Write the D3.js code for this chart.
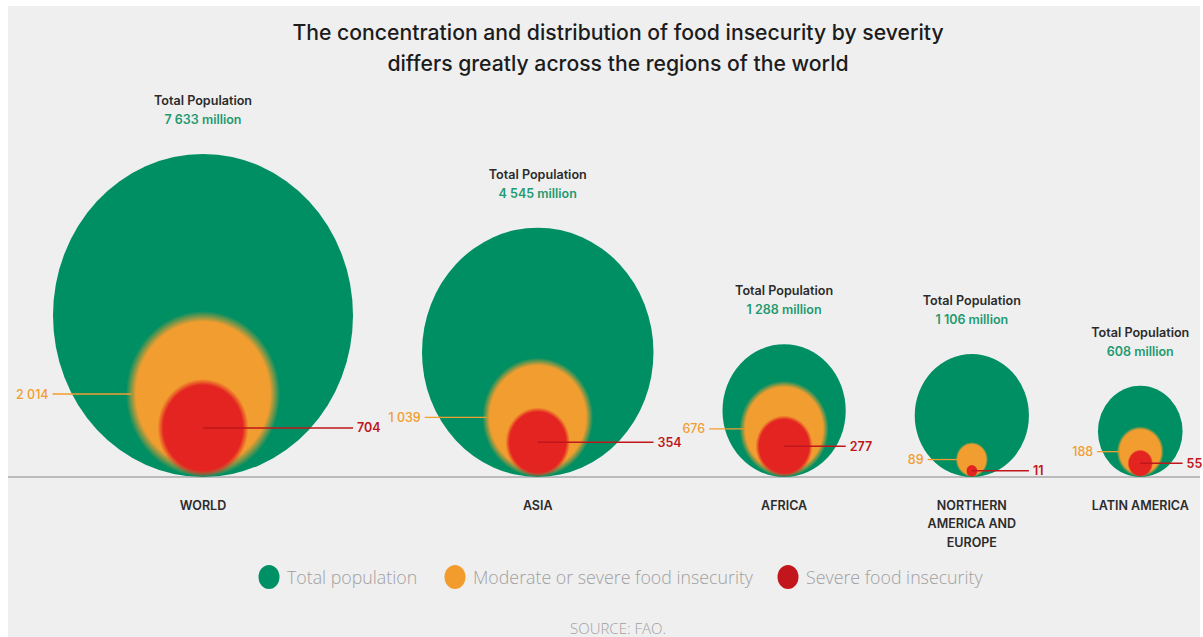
<!DOCTYPE html>
<html><head><meta charset="utf-8">
<script src="https://cdn.jsdelivr.net/npm/d3@7"></script>
<style>
html,body{margin:0;padding:0;background:#fff;}
svg{display:block;}
</style></head>
<body>
<svg id="chart" width="1203" height="637"></svg>
<script>
// ---- data ----
const regions = ["WORLD", "ASIA", "AFRICA", "NORTHERN AMERICA AND EUROPE", "LATIN AMERICA"];
const regionLines = [["WORLD"], ["ASIA"], ["AFRICA"], ["NORTHERN", "AMERICA AND", "EUROPE"], ["LATIN AMERICA"]];
const totalPop = [7633, 4545, 1288, 1106, 608];
const totalPopLabels = ["7 633 million", "4 545 million", "1 288 million", "1 106 million", "608 million"];
const moderateSevere = [2014, 1039, 676, 89, 188];
const moderateLabels = ["2 014", "1 039", "676", "89", "188"];
const severe = [704, 354, 277, 11, 55];
const severeLabels = ["704", "354", "277", "11", "55"];
const legendItems = ["Total population", "Moderate or severe food insecurity", "Severe food insecurity"];

// ---- layout ----
const W = 1203, H = 637;
const baseY = 477, startX = 53, gap = 69, yStretch = 1.077, edgeK = 0.94;
const orangeLeader = [78, 61, 33, 29, 21];
const colGreen = "#008f63", colOrange = "#f29d2f", colRed = "#e32421", colRedDark = "#c0161b";

const svg = d3.select("#chart");
const defs = svg.append("defs");
function softGrad(id, color) {
  const gr = defs.append("radialGradient").attr("id", id).attr("cx", 0.5).attr("cy", 0.5).attr("r", 0.5);
  gr.append("stop").attr("offset", 0).attr("stop-color", color).attr("stop-opacity", 1);
  gr.append("stop").attr("offset", 0.87).attr("stop-color", color).attr("stop-opacity", 1);
  gr.append("stop").attr("offset", 1).attr("stop-color", color).attr("stop-opacity", 0);
}
softGrad("gOrange", colOrange);
softGrad("gRed", colRed);

svg.append("rect").attr("x", 8).attr("y", 6).attr("width", 1192).attr("height", H - 6).attr("fill", "#efefef");

const r = d3.scaleSqrt().domain([0, d3.max(totalPop)]).range([0, 150]);

// centers packed left to right
const cx = [];
let cur = startX;
totalPop.forEach((v, i) => { cx.push(cur + r(v)); cur += 2 * r(v) + gap; });

const data = regions.map((name, i) => ({
  name, lines: regionLines[i], total: totalPop[i], mod: moderateSevere[i], sev: severe[i],
  totalLabel: totalPopLabels[i], modLabel: moderateLabels[i], sevLabel: severeLabels[i], cx: cx[i], i
}));

// title
const title = svg.append("text").attr("x", 618).attr("text-anchor", "middle")
  .attr("font-family", "Inter, 'Open Sans', sans-serif").attr("font-weight", 500).attr("font-size", 21.2).attr("fill", "#1c1c1c");
title.append("tspan").attr("x", 618).attr("y", 40).text("The concentration and distribution of food insecurity by severity");
title.append("tspan").attr("x", 618).attr("y", 71).text("differs greatly across the regions of the world");

// baseline
svg.append("line").attr("x1", 8).attr("x2", 1200).attr("y1", baseY).attr("y2", baseY).attr("stroke", "#a9a9a9").attr("stroke-width", 1.5);

const g = svg.selectAll("g.region").data(data).join("g").attr("class", "region");

g.append("ellipse").attr("cx", d => d.cx).attr("rx", d => r(d.total)).attr("ry", d => r(d.total) * yStretch)
  .attr("cy", d => baseY - r(d.total) * yStretch).attr("fill", colGreen);
g.append("ellipse").attr("cx", d => d.cx).attr("rx", d => r(d.mod)).attr("ry", d => r(d.mod) * yStretch)
  .attr("cy", d => baseY - r(d.mod) * yStretch).attr("fill", "url(#gOrange)");
g.append("ellipse").attr("cx", d => d.cx).attr("rx", d => r(d.sev)).attr("ry", d => r(d.sev) * yStretch)
  .attr("cy", d => baseY - r(d.sev) * yStretch).attr("fill", "url(#gRed)");

// orange leader
const orangeEdge = d => d.cx - r(d.mod) * edgeK;
g.append("line")
  .attr("x1", d => orangeEdge(d) - orangeLeader[d.i]).attr("x2", d => orangeEdge(d) + 1)
  .attr("y1", d => baseY - r(d.mod) * yStretch).attr("y2", d => baseY - r(d.mod) * yStretch)
  .attr("stroke", colOrange).attr("stroke-width", 1.3);
g.append("text").attr("text-anchor", "end")
  .attr("x", d => orangeEdge(d) - orangeLeader[d.i] - 4).attr("y", d => baseY - r(d.mod) * yStretch + 4.5)
  .attr("font-family", "Inter, sans-serif").attr("font-weight", 500).attr("font-size", 12.5).attr("fill", colOrange)
  .text(d => d.modLabel);

// red leader
g.append("line")
  .attr("x1", d => d.cx).attr("x2", d => d.cx + r(d.total))
  .attr("y1", d => baseY - r(d.sev) * yStretch).attr("y2", d => baseY - r(d.sev) * yStretch)
  .attr("stroke", colRedDark).attr("stroke-width", 1.5);
g.append("text").attr("text-anchor", "start")
  .attr("x", d => d.cx + r(d.total) + 4).attr("y", d => baseY - r(d.sev) * yStretch + 4.5)
  .attr("font-family", "Inter, sans-serif").attr("font-weight", 600).attr("font-size", 12.5).attr("fill", colRedDark)
  .text(d => d.sevLabel);

// total labels
g.append("text").attr("text-anchor", "middle").attr("x", d => d.cx)
  .attr("y", d => baseY - 2 * r(d.total) * yStretch - 49)
  .attr("font-family", "Inter, sans-serif").attr("font-weight", 600).attr("font-size", 12.6).attr("fill", "#2b2b2b")
  .text("Total Population");
g.append("text").attr("text-anchor", "middle").attr("x", d => d.cx)
  .attr("y", d => baseY - 2 * r(d.total) * yStretch - 30)
  .attr("font-family", "Inter, sans-serif").attr("font-weight", 600).attr("font-size", 12.5).attr("fill", "#1f9a6f")
  .text(d => d.totalLabel);

// category labels
g.each(function (d) {
  const t = d3.select(this).append("text").attr("text-anchor", "middle")
    .attr("font-family", "Inter, sans-serif").attr("font-weight", 600).attr("font-size", 12.5).attr("fill", "#2b2b2b");
  d.lines.forEach((ln, k) => t.append("tspan").attr("x", d.cx).attr("y", 509.5 + k * 18.5).text(ln));
});

// legend
const legendX = [269, 455, 788];
const legendCol = ["#009066", "#f39c2e", "#c3161c"];
const lg = svg.selectAll("g.leg").data(legendItems).join("g").attr("class", "leg");
lg.append("ellipse").attr("cx", (d, i) => legendX[i]).attr("cy", 577).attr("rx", 10.5).attr("ry", 12).attr("fill", (d, i) => legendCol[i]);
lg.append("text").attr("x", (d, i) => legendX[i] + 18).attr("y", 583.5)
  .attr("font-family", "'Open Sans', sans-serif").attr("font-weight", 300).attr("font-size", 17.8).attr("fill", "#a0a0a0")
  .text(d => d);

svg.append("text").attr("x", 618).attr("y", 634).attr("text-anchor", "middle")
  .attr("font-family", "'Open Sans', sans-serif").attr("font-weight", 300).attr("font-size", 15).attr("fill", "#a0a0a0").text("SOURCE: FAO.");
</script>
</body></html>
